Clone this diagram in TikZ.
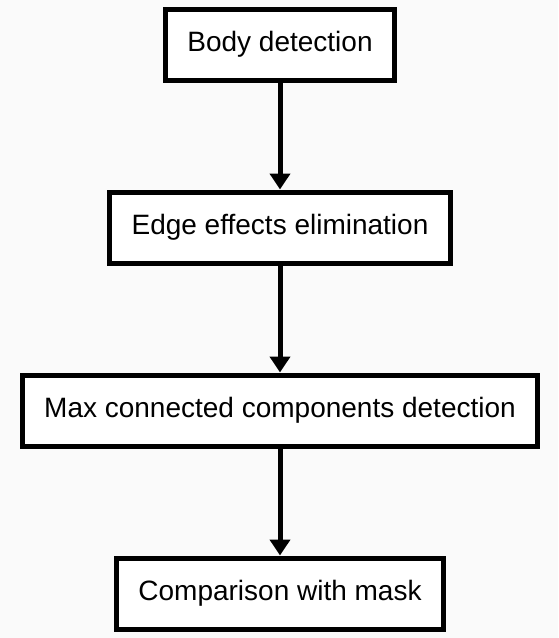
\documentclass[tikz,border=0pt]{standalone}
\usepackage{fontspec}
\setmainfont{Liberation Sans}
\usepackage{tikz}
\usetikzlibrary{positioning,arrows.meta}
\definecolor{bgcol}{RGB}{250,250,250}

\begin{document}
\begin{tikzpicture}[>={Triangle[length=16pt,width=20pt]},x=1pt,y=1pt,
    stepbox/.style={draw, line width=5pt, fill=white, minimum height=71pt,
        inner xsep=22pt, font=\fontsize{28}{34}\selectfont},
    node distance=107pt]

%the background
    \fill[bgcol] (0,0) rectangle (558,-638);
    \useasboundingbox (0,0) rectangle (558,-638);

%the steps
    \node[stepbox] (body) at (280,-44.5) {Body detection};
    \node[stepbox, below=of body] (edge) {Edge effects elimination};
    \node[stepbox, below=of edge] (maxcc) {Max connected components detection};
    \node[stepbox, below=of maxcc] (comp) {Comparison with mask};

%the arrows
    \draw[->, line width=5pt] (body) to (edge);
    \draw[->, line width=5pt] (edge) to (maxcc);
    \draw[->, line width=5pt] (maxcc) to (comp);
\end{tikzpicture}
\end{document}
